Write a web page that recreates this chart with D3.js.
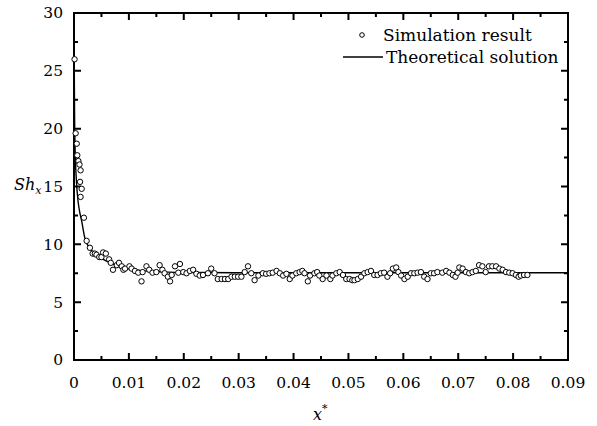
<!DOCTYPE html>
<html>
<head>
<meta charset="utf-8">
<script src="https://cdn.jsdelivr.net/npm/d3@7"></script>
<style>
  body { margin: 0; background: #fff; }
  svg text { font-family: "DejaVu Serif", serif; fill: #000; }
</style>
</head>
<body>
<div id="chart"></div>
<script>
// simulation points (x*, Sh_x)
var simX = [0.0001, 0.0003, 0.0005, 0.0006, 0.0008, 0.0010, 0.0012, 0.0011, 0.0014, 0.0012,
    0.0018, 0.0023, 0.0029, 0.0034, 0.0038, 0.0041, 0.0046, 0.0050, 0.0053, 0.0058,
    0.0064, 0.0067, 0.0071, 0.0078, 0.0082, 0.0087, 0.0090, 0.0093, 0.0101, 0.0105,
    0.0111, 0.0117, 0.0123, 0.0125, 0.0132, 0.0137, 0.0143, 0.0150, 0.0156, 0.0161,
    0.0165, 0.0171, 0.0175, 0.0178, 0.0184, 0.0190, 0.0193, 0.0199, 0.0205, 0.0211,
    0.0217, 0.0223, 0.0229, 0.0235, 0.0244, 0.0250, 0.0256, 0.0262, 0.0269, 0.0275,
    0.0281, 0.0287, 0.0293, 0.0299, 0.0305, 0.0311, 0.0317, 0.0323, 0.0329, 0.0336,
    0.0344, 0.0350, 0.0356, 0.0362, 0.0369, 0.0375, 0.0381, 0.0387, 0.0393, 0.0398,
    0.0405, 0.0411, 0.0416, 0.0420, 0.0426, 0.0430, 0.0438, 0.0443, 0.0447, 0.0453,
    0.0460, 0.0467, 0.0471, 0.0478, 0.0484, 0.0490, 0.0496, 0.0502, 0.0507, 0.0511,
    0.0517, 0.0523, 0.0529, 0.0535, 0.0541, 0.0547, 0.0553, 0.0559, 0.0565, 0.0571,
    0.0576, 0.0581, 0.0587, 0.0591, 0.0596, 0.0602, 0.0608, 0.0614, 0.0620, 0.0626,
    0.0632, 0.0638, 0.0644, 0.0650, 0.0656, 0.0662, 0.0671, 0.0678, 0.0684, 0.0690,
    0.0695, 0.0699, 0.0702, 0.0708, 0.0714, 0.0720, 0.0726, 0.0732, 0.0738, 0.0744,
    0.0750, 0.0756, 0.0762, 0.0769, 0.0775, 0.0781, 0.0787, 0.0793, 0.0799, 0.0805,
    0.0810, 0.0814, 0.0820, 0.0826];
var simY = [26.0, 19.6, 18.7, 17.7, 17.2, 16.9, 16.4, 15.4, 14.8, 14.1,
    12.3, 10.3, 9.7, 9.2, 9.2, 9.1, 8.9, 8.9, 9.3, 9.2,
    8.7, 8.4, 7.8, 8.2, 8.4, 8.1, 7.8, 7.9, 8.1, 7.9,
    7.7, 7.55, 6.8, 7.6, 8.1, 7.8, 7.55, 7.6, 8.2, 7.8,
    7.5, 7.2, 6.8, 7.35, 8.1, 7.55, 8.3, 7.6, 7.5, 7.7,
    7.8, 7.45, 7.3, 7.35, 7.5, 7.9, 7.5, 7.0, 7.0, 7.0,
    7.0, 7.2, 7.2, 7.2, 7.2, 7.6, 8.1, 7.5, 6.9, 7.3,
    7.5, 7.45, 7.5, 7.55, 7.7, 7.5, 7.3, 7.45, 7.0, 7.3,
    7.5, 7.6, 7.7, 7.5, 6.8, 7.3, 7.5, 7.6, 7.3, 7.0,
    7.3, 7.0, 7.3, 7.5, 7.6, 7.35, 7.0, 7.0, 6.9, 6.9,
    7.0, 7.2, 7.5, 7.6, 7.7, 7.35, 7.35, 7.5, 7.55, 7.2,
    7.5, 7.9, 8.0, 7.6, 7.3, 7.0, 7.2, 7.5, 7.5, 7.55,
    7.6, 7.2, 7.0, 7.5, 7.5, 7.6, 7.55, 7.7, 7.55, 7.35,
    7.2, 7.55, 8.0, 7.9, 7.6, 7.5, 7.6, 7.7, 8.2, 8.1,
    7.6, 8.1, 8.1, 8.1, 7.9, 7.8, 7.6, 7.55, 7.5, 7.35,
    7.2, 7.3, 7.35, 7.35];

// theoretical solution
var theoX = [0.00003, 0.00006, 0.0001, 0.0002, 0.0004, 0.0007, 0.001, 0.0014, 0.002, 0.003,
    0.004, 0.0053, 0.007, 0.009, 0.012, 0.016, 0.022, 0.03, 0.09];
var theoY = [28, 24.5, 21.5, 18.3, 15.8, 13.9, 12.9, 12.0, 10.5, 9.6,
    9.05, 8.7, 8.3, 8.0, 7.75, 7.62, 7.56, 7.54, 7.54];

var xTicks = [0, 0.01, 0.02, 0.03, 0.04, 0.05, 0.06, 0.07, 0.08, 0.09];
var xMinor = [0.005, 0.015, 0.025, 0.035, 0.045, 0.055, 0.065, 0.075, 0.085];
var yTicks = [0, 5, 10, 15, 20, 25, 30];
var yMinor = [2.5, 7.5, 12.5, 17.5, 22.5, 27.5];

var W = 597, H = 426;
var margin = {top: 13, right: 29, bottom: 66, left: 74};
var width = W - margin.left - margin.right,
    height = H - margin.top - margin.bottom;

var svg = d3.select("#chart").append("svg")
    .attr("width", W)
    .attr("height", H);

var g = svg.append("g")
    .attr("transform", "translate(" + margin.left + "," + margin.top + ")");

var x = d3.scaleLinear().domain([0, 0.09]).range([0, width]);
var y = d3.scaleLinear().domain([0, 30]).range([height, 0]);

// frame
g.append("rect")
    .attr("width", width)
    .attr("height", height)
    .attr("fill", "none")
    .attr("stroke", "#000")
    .attr("stroke-width", 2);

// inward ticks on all four sides, drawn as one path
var majorLen = 7, minorLen = 4;
var tickPath = d3.path();
xTicks.concat(xMinor).forEach(function(v, i) {
    var len = i < xTicks.length ? majorLen : minorLen;
    tickPath.moveTo(x(v), height); tickPath.lineTo(x(v), height - len);
    tickPath.moveTo(x(v), 0); tickPath.lineTo(x(v), len);
});
yTicks.concat(yMinor).forEach(function(v, i) {
    var len = i < yTicks.length ? majorLen : minorLen;
    tickPath.moveTo(0, y(v)); tickPath.lineTo(len, y(v));
    tickPath.moveTo(width, y(v)); tickPath.lineTo(width - len, y(v));
});
g.append("path")
    .attr("d", tickPath.toString())
    .attr("fill", "none")
    .attr("stroke", "#000")
    .attr("stroke-width", 2);

// tick labels
g.selectAll(".xlab").data(xTicks).enter().append("text")
    .attr("x", function(d) { return x(d); })
    .attr("y", height + 28)
    .attr("text-anchor", "middle")
    .style("font-size", "15.5px")
    .text(function(d) { return d === 0 ? "0" : d3.format(".2f")(d); });

g.selectAll(".ylab").data(yTicks).enter().append("text")
    .attr("x", -11)
    .attr("y", function(d) { return y(d); })
    .attr("dy", "0.35em")
    .attr("text-anchor", "end")
    .style("font-size", "15.5px")
    .text(function(d) { return d; });

svg.append("clipPath").attr("id", "clip")
    .append("rect").attr("width", width).attr("height", height);

var theo = theoX.map(function(d, i) { return [d, theoY[i]]; });
var line = d3.line()
    .x(function(d) { return x(d[0]); })
    .y(function(d) { return y(d[1]); })
    .curve(d3.curveMonotoneX);

g.append("path")
    .datum(theo)
    .attr("clip-path", "url(#clip)")
    .attr("d", line)
    .attr("fill", "none")
    .attr("stroke", "#000")
    .attr("stroke-width", 1.4);

var sim = simX.map(function(d, i) { return {x: d, y: simY[i]}; });
g.selectAll(".pt").data(sim).enter().append("circle")
    .attr("cx", function(d) { return x(d.x); })
    .attr("cy", function(d) { return y(d.y); })
    .attr("r", 2.7)
    .attr("fill", "#fff")
    .attr("stroke", "#000")
    .attr("stroke-width", 1);

// legend
var leg = svg.append("g");
leg.append("circle").attr("cx", 362).attr("cy", 35).attr("r", 2.3)
    .attr("fill", "#fff").attr("stroke", "#000").attr("stroke-width", 1);
leg.append("text").attr("x", 383).attr("y", 35).attr("dy", "0.35em")
    .style("font-size", "17px").text("Simulation result");
leg.append("line").attr("x1", 343).attr("x2", 383).attr("y1", 57).attr("y2", 57)
    .attr("stroke", "#000").attr("stroke-width", 1.4);
leg.append("text").attr("x", 386).attr("y", 57).attr("dy", "0.35em")
    .style("font-size", "17px").text("Theoretical solution");

// axis titles
var ytl = svg.append("text")
    .attr("x", 14).attr("y", 190)
    .style("font-size", "16px").style("font-style", "italic");
ytl.append("tspan").text("Sh");
ytl.append("tspan").attr("dy", 4).style("font-size", "11px").text("x");

var xtl = svg.append("text")
    .attr("x", 313).attr("y", 420)
    .style("font-size", "16px").style("font-style", "italic");
xtl.append("tspan").text("x");
xtl.append("tspan").attr("dy", -8).style("font-size", "11px").text("*");
</script>
</body>
</html>
